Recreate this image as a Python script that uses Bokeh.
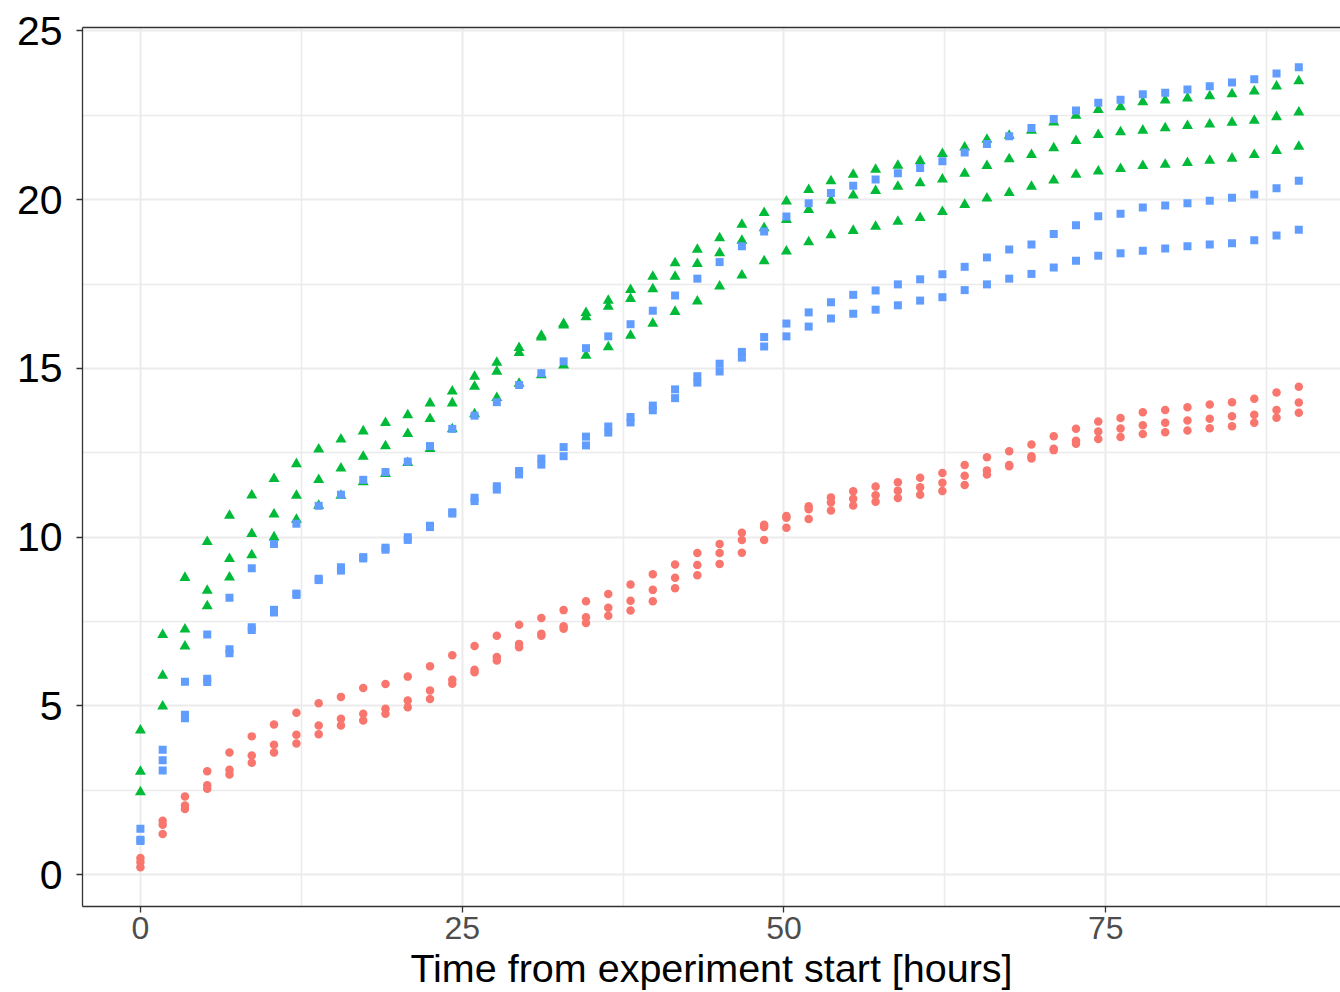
from bokeh.plotting import figure
from bokeh.models import Range1d, FixedTicker, LinearAxis
from bokeh.embed import file_html
from bokeh.resources import INLINE

times = [0.00, 1.73, 3.46, 5.19, 6.92, 8.65, 10.38, 12.12, 13.85, 15.58,
         17.31, 19.04, 20.77, 22.50, 24.23, 25.96, 27.69, 29.42, 31.15, 32.88,
         34.62, 36.35, 38.08, 39.81, 41.54, 43.27, 45.00, 46.73, 48.46, 50.19,
         51.92, 53.65, 55.38, 57.12, 58.85, 60.58, 62.31, 64.04, 65.77, 67.50,
         69.23, 70.96, 72.69, 74.42, 76.15, 77.88, 79.62, 81.35, 83.08, 84.81,
         86.54, 88.27, 90.00]

red_1 = [0.50, 1.60, 2.32, 3.07, 3.62, 4.10, 4.45, 4.80, 5.08, 5.27,
         5.53, 5.65, 5.87, 6.18, 6.50, 6.78, 7.08, 7.41, 7.61, 7.84,
         8.10, 8.32, 8.60, 8.90, 9.19, 9.53, 9.80, 10.13, 10.37, 10.63,
         10.92, 11.18, 11.36, 11.50, 11.63, 11.76, 11.90, 12.14, 12.37, 12.55,
         12.75, 12.99, 13.21, 13.43, 13.53, 13.70, 13.77, 13.85, 13.93, 14.00,
         14.10, 14.29, 14.46]
red_2 = [0.38, 1.48, 2.05, 2.65, 3.11, 3.53, 3.85, 4.15, 4.42, 4.62,
         4.77, 4.92, 5.16, 5.46, 5.78, 6.07, 6.45, 6.84, 7.14, 7.36,
         7.63, 7.91, 8.12, 8.44, 8.80, 9.18, 9.53, 9.92, 10.30, 10.58,
         10.83, 11.03, 11.14, 11.24, 11.38, 11.48, 11.61, 11.82, 11.98, 12.14,
         12.40, 12.62, 12.86, 13.13, 13.22, 13.32, 13.39, 13.46, 13.51, 13.58,
         13.63, 13.77, 13.99]
red_3 = [0.22, 1.21, 1.95, 2.55, 2.97, 3.32, 3.62, 3.89, 4.16, 4.42,
         4.57, 4.77, 4.96, 5.21, 5.66, 6.00, 6.35, 6.74, 7.08, 7.29,
         7.46, 7.67, 7.83, 8.10, 8.49, 8.87, 9.21, 9.54, 9.92, 10.28,
         10.54, 10.79, 10.94, 11.05, 11.16, 11.26, 11.37, 11.55, 11.86, 12.10,
         12.33, 12.58, 12.77, 12.91, 12.97, 13.06, 13.11, 13.16, 13.23, 13.29,
         13.39, 13.54, 13.69]

green_1 = [4.28, 7.11, 8.80, 9.86, 10.64, 11.24, 11.73, 12.17, 12.60, 12.90,
           13.14, 13.39, 13.62, 13.97, 14.32, 14.76, 15.17, 15.61, 15.97, 16.32,
           16.65, 17.01, 17.33, 17.72, 18.12, 18.52, 18.86, 19.26, 19.61, 19.95,
           20.29, 20.55, 20.74, 20.89, 21.01, 21.14, 21.36, 21.55, 21.78, 21.90,
           22.05, 22.29, 22.49, 22.66, 22.74, 22.89, 22.94, 23.00, 23.07, 23.13,
           23.21, 23.36, 23.51]
green_2 = [3.06, 5.90, 7.27, 8.42, 9.36, 10.10, 10.68, 11.23, 11.70, 12.04,
           12.39, 12.70, 13.06, 13.51, 13.97, 14.46, 14.91, 15.46, 15.92, 16.28,
           16.52, 16.83, 17.06, 17.35, 17.72, 18.10, 18.42, 18.79, 19.16, 19.40,
           19.70, 19.97, 20.13, 20.26, 20.39, 20.49, 20.60, 20.77, 21.00, 21.20,
           21.33, 21.53, 21.74, 21.92, 22.00, 22.05, 22.12, 22.19, 22.23, 22.28,
           22.34, 22.45, 22.59]
green_3 = [2.45, 4.99, 6.77, 7.96, 8.81, 9.47, 10.00, 10.52, 10.94, 11.23,
           11.63, 11.88, 12.20, 12.62, 13.20, 13.65, 14.13, 14.55, 14.80, 15.09,
           15.38, 15.63, 15.97, 16.33, 16.68, 16.99, 17.43, 17.76, 18.18, 18.47,
           18.74, 18.95, 19.08, 19.20, 19.35, 19.46, 19.64, 19.85, 20.04, 20.20,
           20.39, 20.57, 20.74, 20.84, 20.91, 21.00, 21.04, 21.09, 21.16, 21.22,
           21.33, 21.45, 21.57]

blue_1 = [1.36, 3.70, 5.72, 7.12, 8.21, 9.08, 9.80, 10.40, 10.93, 11.26,
          11.70, 11.93, 12.24, 12.70, 13.21, 13.60, 14.00, 14.51, 14.86, 15.21,
          15.60, 15.95, 16.31, 16.71, 17.16, 17.66, 18.15, 18.62, 19.06, 19.50,
          19.89, 20.20, 20.41, 20.60, 20.78, 20.94, 21.14, 21.40, 21.65, 21.88,
          22.12, 22.39, 22.64, 22.87, 22.96, 23.12, 23.17, 23.26, 23.36, 23.47,
          23.57, 23.74, 23.92]
blue_2 = [1.04, 3.39, 4.74, 5.81, 6.68, 7.33, 7.85, 8.33, 8.77, 9.11,
          9.41, 9.69, 10.00, 10.34, 10.74, 11.17, 11.51, 11.96, 12.33, 12.67,
          12.98, 13.28, 13.56, 13.90, 14.38, 14.77, 15.14, 15.49, 15.93, 16.33,
          16.66, 16.96, 17.18, 17.31, 17.49, 17.64, 17.79, 18.01, 18.29, 18.52,
          18.67, 18.98, 19.24, 19.51, 19.58, 19.77, 19.83, 19.89, 19.97, 20.06,
          20.15, 20.34, 20.56]
blue_3 = [1.00, 3.09, 4.64, 5.71, 6.56, 7.25, 7.77, 8.29, 8.73, 9.01,
          9.37, 9.63, 9.92, 10.30, 10.70, 11.07, 11.41, 11.86, 12.15, 12.40,
          12.72, 13.10, 13.40, 13.76, 14.12, 14.58, 14.91, 15.32, 15.65, 15.95,
          16.24, 16.48, 16.62, 16.74, 16.87, 17.01, 17.11, 17.32, 17.49, 17.66,
          17.80, 17.99, 18.19, 18.34, 18.41, 18.49, 18.55, 18.62, 18.67, 18.71,
          18.80, 18.94, 19.11]

x_ticks = [0, 25, 50, 75]
x_minor = [12.5, 37.5, 62.5, 87.5]
y_ticks = [0, 5, 10, 15, 20, 25]
y_minor = [2.5, 7.5, 12.5, 17.5, 22.5]

RED = "#F8766D"
GREEN = "#00BA38"
BLUE = "#619CFF"
FONT = "Liberation Sans"
BORDER = "#333333"

p = figure(width=1340, height=992, output_backend="svg", toolbar_location=None,
           x_range=Range1d(-4.5, 93.24), y_range=Range1d(-0.94, 25.10),
           min_border_left=82, min_border_right=0, min_border_top=27,
           min_border_bottom=86, x_axis_location="below", y_axis_location="left")
p.outline_line_color = None
p.background_fill_color = "white"
p.border_fill_color = "white"

for ys in (red_1, red_2, red_3):
    p.scatter(times, ys, marker="circle", size=8.5, fill_color=RED, line_color=None)
for ys in (green_1, green_2, green_3):
    p.scatter(times, ys, marker="triangle", size=11, fill_color=GREEN, line_color=None)
for ys in (blue_1, blue_2, blue_3):
    p.scatter(times, ys, marker="square", size=8, fill_color=BLUE, line_color=None)

p.xaxis.ticker = FixedTicker(ticks=x_ticks, minor_ticks=x_minor)
p.yaxis.ticker = FixedTicker(ticks=y_ticks, minor_ticks=y_minor)

for g in (p.xgrid, p.ygrid):
    g.grid_line_color = "#EBEBEB"
    g.grid_line_width = 2
    g.minor_grid_line_color = "#EBEBEB"
    g.minor_grid_line_width = 1.5

for ax in (p.xaxis, p.yaxis):
    ax.axis_line_color = BORDER
    ax.axis_line_width = 1.3
    ax.major_tick_line_color = BORDER
    ax.major_tick_line_width = 1.3
    ax.major_tick_in = 0
    ax.major_tick_out = 6
    ax.minor_tick_line_color = None
    ax.major_label_text_font = FONT

p.yaxis.major_label_text_font_size = "41px"
p.yaxis.major_label_text_color = "black"
p.yaxis.major_label_standoff = 14

p.xaxis.major_label_text_font_size = "32px"
p.xaxis.major_label_text_color = "#4D4D4D"
p.xaxis.major_label_standoff = 4
p.xaxis.axis_label = "Time from experiment start [hours]"
p.xaxis.axis_label_text_font = FONT
p.xaxis.axis_label_text_font_size = "39.5px"
p.xaxis.axis_label_text_font_style = "normal"
p.xaxis.axis_label_text_color = "black"
p.xaxis.axis_label_standoff = 4

top = LinearAxis(ticker=FixedTicker(ticks=[]), axis_line_color=BORDER, axis_line_width=1.3,
                 major_tick_line_color=None, minor_tick_line_color=None,
                 major_label_text_font_size="0px")
p.add_layout(top, "above")

open("out.html", "w").write(file_html(p, INLINE))
